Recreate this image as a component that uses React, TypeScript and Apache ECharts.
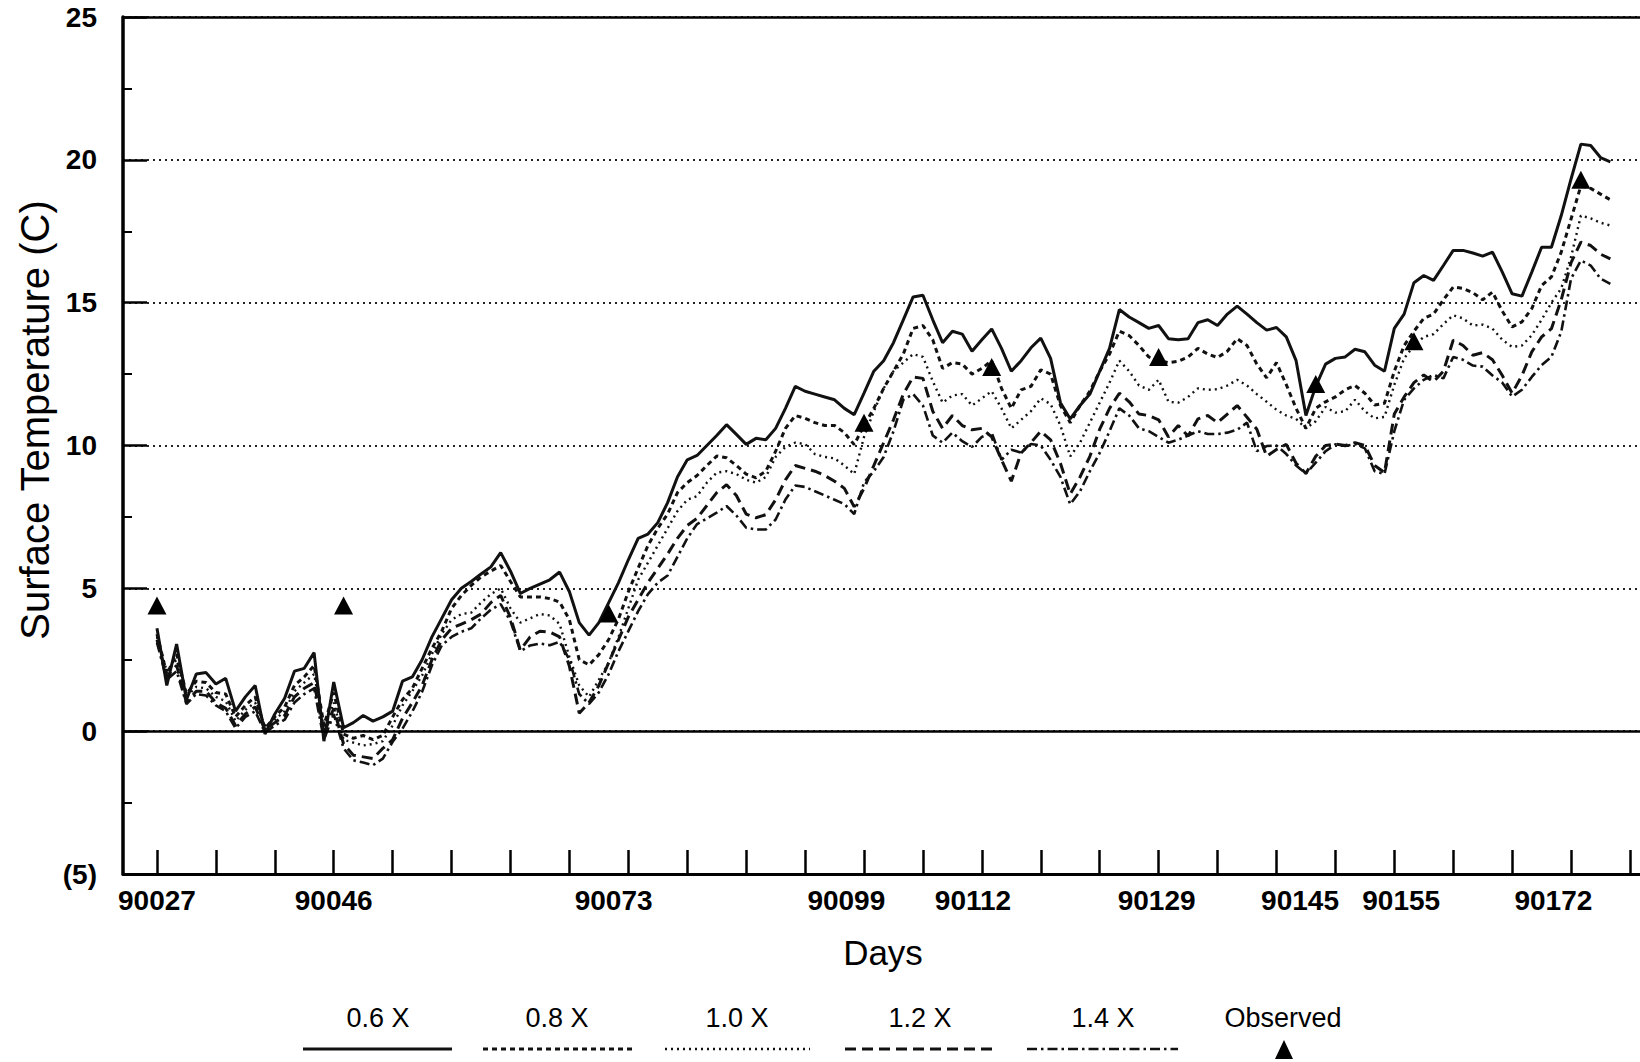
import React, { useEffect, useRef } from "react";
import * as echarts from "echarts";

// ---- data (days 90027 .. 90175, one value per day) ----
const FIRST_DAY = 90027;
const S06: number[] = [
  3.6, 1.6, 3.05, 1.1, 2.0, 2.05, 1.65, 1.85, 0.7, 1.2, 1.6, -0.1, 0.6, 1.15, 2.1, 2.2, 2.75, -0.35, 1.72, 0.12,
  0.3, 0.55, 0.35, 0.5, 0.7, 1.75, 1.9, 2.5, 3.3, 3.95, 4.6, 5.0, 5.24, 5.5, 5.75, 6.25, 5.6, 4.82, 5.0, 5.15,
  5.3, 5.57, 4.88, 3.8, 3.36, 3.8, 4.5, 5.2, 6.0, 6.75, 6.9, 7.3, 8.0, 8.9, 9.5, 9.65, 10.0, 10.35, 10.73, 10.39,
  10.04, 10.25, 10.2, 10.6, 11.3, 12.07, 11.9, 11.8, 11.7, 11.6, 11.3, 11.08, 11.83, 12.6, 12.97, 13.6, 14.4, 15.2, 15.26, 14.4,
  13.6, 14.0, 13.9, 13.3, 13.7, 14.08, 13.4, 12.6, 12.97, 13.42, 13.76, 13.05, 11.5, 10.93, 11.4, 11.8, 12.6, 13.4, 14.76, 14.5,
  14.3, 14.1, 14.2, 13.74, 13.7, 13.74, 14.3, 14.4, 14.2, 14.6, 14.88, 14.6, 14.3, 14.04, 14.13, 13.8, 12.97, 11.05, 12.07, 12.85,
  13.05, 13.1, 13.37, 13.28, 12.81, 12.6, 14.1, 14.6, 15.7, 15.95, 15.78, 16.3, 16.83, 16.83, 16.74, 16.63, 16.77, 16.07, 15.31, 15.23,
  16.07, 16.94, 16.94, 18.05, 19.33, 20.55, 20.5, 20.08, 19.93,
];
const S08: number[] = [
  3.4, 2.0, 2.7, 1.3, 1.75, 1.7, 1.35, 1.3, 0.5, 0.9, 1.2, 0.1, 0.5, 0.85, 1.6, 1.9, 2.3, 0.2, 1.35, -0.1,
  -0.25, -0.15, -0.3, -0.15, 0.5, 1.1, 1.5, 2.2, 2.9, 3.5, 4.3, 4.75, 5.1, 5.4, 5.6, 5.8, 5.24, 4.7, 4.7, 4.7,
  4.64, 4.52, 3.9, 2.5, 2.32, 2.68, 3.21, 3.93, 4.88, 5.71, 6.5, 7.1, 7.6, 8.35, 8.7, 8.95, 9.3, 9.63, 9.57, 9.3,
  9.0, 8.87, 9.1, 9.8, 10.6, 11.05, 10.95, 10.8, 10.7, 10.7, 10.45, 10.03, 10.7, 11.3, 12.0, 12.6, 13.2, 14.1, 14.2, 13.7,
  12.7, 12.9, 12.85, 12.5, 12.7, 12.97, 12.0, 11.3, 11.95, 12.07, 12.65, 12.5, 11.4, 10.8, 11.4, 11.9, 12.6, 13.2, 14.0, 13.85,
  13.5, 13.1, 12.97, 12.9, 12.95, 13.1, 13.4, 13.2, 13.08, 13.3, 13.74, 13.5, 12.85, 12.37, 12.9, 12.13, 11.3, 10.6, 11.3, 11.53,
  11.7, 11.95, 12.1, 11.83, 11.42, 11.48, 12.6, 13.5, 14.0, 14.45, 14.6, 15.1, 15.55, 15.5, 15.35, 15.1, 15.37, 14.7, 14.15, 14.33,
  14.79, 15.6, 15.9, 16.77, 17.93, 19.09, 19.0, 18.8, 18.6,
];
const S10: number[] = [
  3.3, 2.1, 2.5, 1.2, 1.55, 1.5, 1.2, 1.05, 0.35, 0.75, 1.0, 0.2, 0.4, 0.7, 1.4, 1.7, 2.0, 0.1, 1.0, -0.3,
  -0.4, -0.5, -0.45, -0.35, 0.2, 0.9, 1.4, 1.95, 2.7, 3.4, 3.9, 4.1, 4.15, 4.5, 4.8, 5.0, 4.3, 3.8, 3.95, 4.1,
  4.05, 3.75, 2.6, 1.6, 1.2, 1.8, 2.4, 3.3, 4.3, 5.3, 5.9, 6.5, 7.1, 7.7, 8.1, 8.23, 8.7, 9.05, 9.1, 9.0,
  8.8, 8.7, 8.9, 9.6, 9.95, 10.1, 10.05, 9.7, 9.6, 9.55, 9.3, 9.0, 10.3, 11.2, 12.0, 12.6, 12.9, 13.2, 13.1, 12.25,
  11.5, 11.75, 11.8, 11.4, 11.65, 11.9, 11.3, 10.6, 10.9, 11.2, 11.65, 11.45, 10.7, 9.62, 10.1, 10.8, 11.5, 12.2, 12.97, 12.6,
  12.1, 11.95, 12.3, 11.53, 11.5, 11.7, 12.0, 11.95, 11.97, 12.1, 12.3, 12.1, 11.8, 11.53, 11.25, 11.05, 10.93, 10.6, 10.85, 11.35,
  11.15, 11.2, 11.6, 11.2, 10.95, 11.0, 12.12, 13.05, 13.5, 13.8, 13.9, 14.25, 14.56, 14.45, 14.2, 14.23, 14.09, 13.7, 13.45, 13.5,
  13.86, 14.4, 15.0, 15.5, 16.6, 18.05, 17.95, 17.8, 17.7,
];
const S12: number[] = [
  3.2, 1.9, 2.3, 1.0, 1.4, 1.4, 1.0, 0.8, 0.2, 0.6, 0.85, 0.05, 0.3, 0.55, 1.2, 1.5, 1.7, -0.1, 0.8, -0.45,
  -0.84, -0.9, -0.96, -0.6, -0.3, 0.45, 1.0, 1.6, 2.5, 3.2, 3.6, 3.75, 3.9, 4.1, 4.5, 4.75, 3.98, 2.84, 3.3, 3.5,
  3.47, 3.3, 2.27, 0.63, 1.0, 1.6, 2.4, 3.2, 4.0, 4.6, 5.2, 5.7, 6.2, 6.75, 7.2, 7.45, 7.9, 8.35, 8.63, 8.25,
  7.6, 7.47, 7.58, 8.1, 8.8, 9.3, 9.2, 9.1, 8.95, 8.75, 8.5, 7.85, 8.5, 9.3, 10.1, 10.9, 11.8, 12.4, 12.35, 11.2,
  10.6, 11.05, 10.7, 10.55, 10.6, 10.3, 9.5, 8.75, 9.74, 10.1, 10.5, 10.2, 9.38, 8.3, 8.9, 9.62, 10.57, 11.3, 11.83, 11.53,
  11.1, 11.05, 10.9, 10.3, 10.7, 10.33, 10.93, 11.05, 10.8, 11.1, 11.4, 10.99, 10.57, 9.62, 9.86, 10.04, 9.38, 9.02, 9.62, 10.0,
  10.05, 10.0, 10.1, 10.0, 9.3, 9.05, 11.1, 11.7, 12.2, 12.47, 12.23, 12.6, 13.69, 13.5, 13.16, 13.25, 13.0, 12.45, 11.83, 12.45,
  13.28, 13.8, 14.09, 15.1, 16.4, 17.12, 17.0, 16.7, 16.53,
];
const S14: number[] = [
  3.1, 1.8, 2.1, 0.95, 1.3, 1.25, 0.9, 0.7, 0.1, 0.5, 0.7, -0.05, 0.2, 0.4, 1.0, 1.3, 1.5, -0.3, 0.6, -0.6,
  -1.02, -1.1, -1.19, -0.96, -0.37, 0.09, 0.68, 1.38, 2.31, 3.0, 3.3, 3.48, 3.6, 3.95, 4.25, 4.45, 3.85, 2.8, 3.0, 3.07,
  3.01, 3.13, 2.5, 1.3, 0.95, 1.36, 2.0, 2.8, 3.5, 4.2, 4.8, 5.2, 5.45, 6.1, 6.75, 7.25, 7.45, 7.65, 7.88, 7.55,
  7.12, 7.06, 7.06, 7.41, 8.11, 8.6, 8.55, 8.4, 8.25, 8.1, 7.95, 7.6, 8.7, 9.1, 9.6, 10.5, 11.6, 11.8, 11.4, 10.35,
  10.1, 10.45, 10.15, 9.95, 10.3, 10.45, 9.5, 9.85, 9.75, 10.05, 10.0, 9.5, 8.9, 7.94, 8.4, 9.1, 9.74, 10.5, 11.3, 11.05,
  10.6, 10.5, 10.3, 10.1, 10.2, 10.35, 10.5, 10.4, 10.4, 10.45, 10.55, 10.8, 9.8, 9.98, 10.0, 9.7, 9.3, 9.02, 9.4, 9.8,
  10.04, 9.98, 10.05, 9.9, 9.1, 9.0, 10.5, 11.6, 12.0, 12.3, 12.47, 12.35, 13.1, 13.0, 12.8, 12.76, 12.45, 12.2, 11.71, 11.95,
  12.4, 12.81, 13.1, 13.98, 15.84, 16.48, 16.3, 15.84, 15.66,
];
const OBS_DAYS: number[] = [90027, 90046, 90073, 90099, 90112, 90129, 90145, 90155, 90172];
const OBS_VALUES: number[] = [4.4, 4.4, 4.12, 10.8, 12.75, 13.1, 12.15, 13.65, 19.3];
const TICK_DAYS: number[] = [
  90027, 90033, 90039, 90045, 90051, 90057, 90063, 90069, 90075, 90081, 90087, 90093, 90099,
  90105, 90111, 90117, 90123, 90129, 90135, 90141, 90147, 90153, 90159, 90165, 90171, 90177,
];
const X_LABELS: string[] = ["90027", "90046", "90073", "90099", "90112", "90129", "90145", "90155", "90172"];
const SERIES_NAMES: string[] = ["0.6 X", "0.8 X", "1.0 X", "1.2 X", "1.4 X"];
const Y_TITLE = "Surface Temperature (C)";
const X_TITLE = "Days";

// ---- layout ----
const X_LABEL_AT = [90027, 90045, 90073.5, 90097.2, 90110.1, 90128.8, 90143.4, 90153.7, 90169.2];
const FONT = '"Liberation Sans", Arial, Helvetica, sans-serif';
const DASHES: any[] = ["solid", [5, 4], [2, 4], [11, 6], [10, 4, 2.5, 4]];
const WIDTHS = [3, 3, 2.4, 3, 2.6];

function pairs(vals: number[]) {
  return vals.map((v, i) => [FIRST_DAY + i, v]);
}

export default function App() {
  const ref = useRef<HTMLDivElement>(null);
  useEffect(() => {
    if (!ref.current) return;
    const chart = echarts.init(ref.current, undefined, { renderer: "svg" });
    const allSeries = [S06, S08, S10, S12, S14];
    const lineSeries: any[] = allSeries.map((vals, k) => ({
      type: "line",
      name: SERIES_NAMES[k],
      data: pairs(vals),
      symbol: "none",
      smooth: false,
      z: 3,
      lineStyle: { color: "#111", width: WIDTHS[k], type: DASHES[k] },
      ...(k === 0
        ? {
            markLine: {
              silent: true,
              symbol: "none",
              label: { show: false },
              lineStyle: { color: "#000", width: 2.6, type: "solid" },
              data: [{ yAxis: 0 }],
            },
          }
        : {}),
    }));
    const legendX = [378, 557, 737, 920, 1103];
    const legendLine = [
      [303, 452],
      [483, 632],
      [665, 810],
      [845, 994],
      [1027, 1178],
    ];
    const graphics: any[] = [];
    SERIES_NAMES.forEach((n, k) => {
      graphics.push({
        type: "text",
        x: legendX[k],
        y: 1018,
        style: { text: n, font: `27px ${FONT}`, fill: "#000", textAlign: "center", textVerticalAlign: "middle" },
      });
      graphics.push({
        type: "line",
        shape: { x1: legendLine[k][0], y1: 1049, x2: legendLine[k][1], y2: 1049 },
        style: {
          stroke: "#111",
          lineWidth: WIDTHS[k],
          lineDash: k === 0 ? null : DASHES[k],
        },
      });
    });
    graphics.push({
      type: "text",
      x: 1283,
      y: 1018,
      style: { text: "Observed", font: `27px ${FONT}`, fill: "#000", textAlign: "center", textVerticalAlign: "middle" },
    });
    graphics.push({
      type: "polygon",
      shape: { points: [[1284, 1040], [1275, 1059], [1293, 1059]] },
      style: { fill: "#000" },
    });
    graphics.push({
      type: "text",
      x: 35,
      y: 420,
      rotation: Math.PI / 2,
      style: { text: Y_TITLE, font: `40px ${FONT}`, fill: "#000", textAlign: "center", textVerticalAlign: "middle" },
    });
    graphics.push({
      type: "text",
      x: 883,
      y: 952,
      style: { text: X_TITLE, font: `35px ${FONT}`, fill: "#000", textAlign: "center", textVerticalAlign: "middle" },
    });

    const xMin = 90023.54;
    const xMax = 90178.02;
    chart.setOption({
      animation: false,
      backgroundColor: "#fff",
      grid: { left: 123, top: 17, right: 0, bottom: 188, containLabel: false },
      xAxis: [
        {
          type: "value",
          min: xMin,
          max: xMax,
          position: "bottom",
          axisLine: { show: true, onZero: false, lineStyle: { color: "#000", width: 3 } },
          axisTick: {
            show: true,
            inside: true,
            length: 24,
            customValues: TICK_DAYS,
            lineStyle: { color: "#000", width: 2.5 },
          },
          axisLabel: {
            show: true,
            customValues: X_LABEL_AT,
            formatter: (v: number) => {
              let best = 0;
              for (let i = 1; i < X_LABEL_AT.length; i++) {
                if (Math.abs(X_LABEL_AT[i] - v) < Math.abs(X_LABEL_AT[best] - v)) best = i;
              }
              return X_LABELS[best];
            },
            color: "#000",
            fontSize: 28,
            fontWeight: "bold",
            fontFamily: FONT,
            margin: 12,
          },
          splitLine: { show: false },
        },
        {
          type: "value",
          min: xMin,
          max: xMax,
          position: "top",
          axisLine: { show: true, onZero: false, lineStyle: { color: "#000", width: 2.6 } },
          axisTick: { show: false },
          axisLabel: { show: false },
          splitLine: { show: false },
        },
      ],
      yAxis: {
        type: "value",
        min: -5,
        max: 25,
        interval: 5,
        axisLine: { show: true, onZero: false, lineStyle: { color: "#000", width: 3.5 } },
        axisTick: { show: true, inside: true, length: 24, lineStyle: { color: "#000", width: 2.5 } },
        minorTick: { show: true, splitNumber: 2, length: 9, lineStyle: { color: "#000", width: 2 } },
        axisLabel: {
          formatter: (v: number) => (v < 0 ? `(${-v})` : `${v}`),
          color: "#000",
          fontSize: 28,
          fontWeight: "bold",
          fontFamily: FONT,
          margin: 26,
        },
        splitLine: { show: true, lineStyle: { color: "#222", width: 1.8, type: [2, 4] } },
      },
      series: [
        ...lineSeries,
        {
          type: "scatter",
          name: "Observed",
          data: OBS_DAYS.map((d, i) => [d, OBS_VALUES[i]]),
          symbol: "triangle",
          symbolSize: [19, 18],
          itemStyle: { color: "#000", opacity: 1 },
          z: 5,
        },
      ],
      graphic: graphics,
    });
    return () => chart.dispose();
  }, []);
  return (
    <div
      ref={ref}
      style={{ position: "absolute", left: 0, top: 0, width: 1640, height: 1062, background: "#fff" }}
    />
  );
}
